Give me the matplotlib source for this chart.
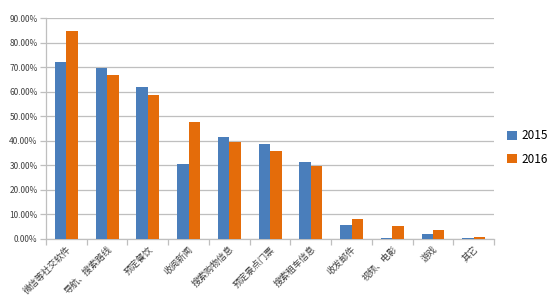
import matplotlib.pyplot as plt
import numpy as np
from matplotlib.ticker import PercentFormatter

plt.rcParams['font.family'] = ['Noto Sans CJK SC', 'DejaVu Sans']

categories = ['微信等社交软件', '导航、搜索路线', '预定餐饮', '收阅新闻', '搜索购物信息',
              '预定景点门票', '搜索租车信息', '收发邮件', '视频、电影', '游戏', '其它']
values_2015 = [0.720, 0.697, 0.621, 0.304, 0.414, 0.388, 0.312, 0.056, 0.005, 0.019, 0.004]
values_2016 = [0.846, 0.668, 0.588, 0.478, 0.397, 0.360, 0.297, 0.081, 0.054, 0.037, 0.008]
series_names = ['2015', '2016']

blue = '#4A7EBB'
orange = '#E46C0A'
grid_color = '#BFBFBF'

fig = plt.figure(figsize=(5.52, 3.06), dpi=100)
ax = fig.add_axes([0.0833, 0.219, 0.812, 0.722])

x = np.arange(len(categories))
w = 0.28
ax.bar(x - w / 2, values_2015, w, color=blue, label=series_names[0], zorder=3)
ax.bar(x + w / 2, values_2016, w, color=orange, label=series_names[1], zorder=3)

ax.set_xlim(-0.5, len(categories) - 0.5)
ax.set_ylim(0, 0.9)
ax.set_yticks(np.arange(0, 0.91, 0.1))
ax.yaxis.set_major_formatter(PercentFormatter(1.0, decimals=2))
ax.yaxis.grid(True, color=grid_color, linewidth=0.9, zorder=0)

for side in ['top', 'right']:
    ax.spines[side].set_visible(False)
for side in ['left', 'bottom']:
    ax.spines[side].set_color(grid_color)
    ax.spines[side].set_linewidth(0.9)

# category labels, with ticks between categories
ax.set_xticks(x)
ax.set_xticklabels(categories, rotation=45, ha='right', rotation_mode='anchor',
                   fontsize=6.5, color='#404040')
ax.tick_params(axis='x', length=0, pad=4)
ax.set_xticks(np.arange(-0.5, len(categories), 1.0), minor=True)
ax.tick_params(axis='x', which='minor', length=4, color=grid_color, width=0.9)
ax.tick_params(axis='y', labelsize=6, labelcolor='#404040', length=4,
               color=grid_color, width=0.9, pad=2)

ax.legend(loc='upper left', bbox_to_anchor=(1.005, 0.545), frameon=False,
          fontsize=8.5, handlelength=0.8, handleheight=0.8, handletextpad=0.4,
          labelspacing=0.9)

fig.savefig('out.png', dpi=100)
